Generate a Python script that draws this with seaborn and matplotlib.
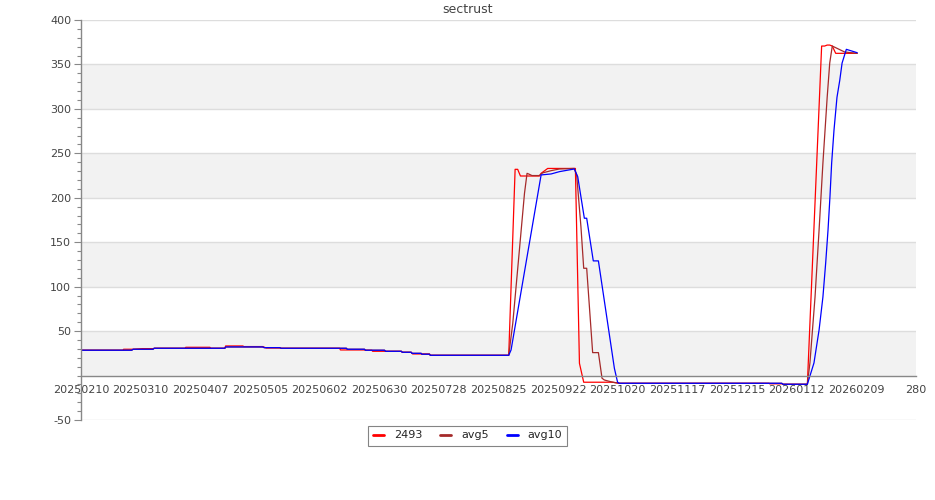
import numpy as np
import pandas as pd
import matplotlib
matplotlib.use("Agg")
import matplotlib.pyplot as plt
from matplotlib.ticker import MultipleLocator, FixedLocator
import seaborn as sns

# days since 20250210
days_2493 = [0, 19.7, 20, 24.4, 24.8, 28.8, 34.2, 34.6, 48.8, 49.2, 60.5, 60.9, 67.5, 67.9, 76, 76.4,
             85.3, 87, 93.3, 93.7, 121.4, 121.8, 133.1, 133.5, 136.5, 136.9, 150.4, 150.8, 155, 155.7,
             163.6, 164, 200.8, 203.8, 205, 206.3, 215.2, 216, 219.1, 232.1, 234, 236, 249.6, 252.7,
             323, 323.3, 329, 329.5, 341, 347.7, 349.1, 350.3, 351.5, 352.7, 354.3, 364.4]
vals_2493 = [28.5, 28.5, 29.6, 29.6, 29.6, 30.3, 30.3, 30.7, 30.7, 31.8, 31.8, 30.7, 30.7, 33.3, 33.3, 32.6,
             32.6, 31.0, 31.0, 30.7, 30.7, 28.8, 28.8, 28.5, 28.5, 27.3, 27.3, 26.2, 26.2, 24.3,
             24.3, 22.8, 22.8, 232, 232, 224.5, 224.5, 227.5, 233, 233, 13.8, -7.5, -7.5, -8.7,
             -8.7, -9.3, -9.3, -9.8, -9.8, 370.7, 370.7, 371.8, 371.8, 370.7, 362.5, 362.5]

days_avg5 = [0, 23.8, 24.5, 33.8, 34.3, 67.5, 68, 85.3, 86, 93.3, 94, 124.6, 125, 133.1, 133.5,
             142.5, 143, 150.4, 150.8, 155, 155.4, 159.7, 160, 163.6, 164, 200.8, 202.7, 205.8, 208.2,
             209.4, 210.5, 211.7, 215.2, 216.7, 220.7, 224.6, 231.6, 232.7, 234.7, 236, 237.4, 240.2,
             242.9, 244.6, 245.7, 249.6, 252.7, 329, 329.5, 341, 342.2, 344.6, 346.5, 348.3, 350.3,
             351.5, 352.7, 358.5, 364.4]
vals_avg5 = [28.5, 28.5, 29.6, 29.6, 30.7, 30.7, 32.2, 32.2, 31.4, 31.4, 30.7, 30.7, 29.6, 29.6, 28.5,
             28.5, 27.3, 27.3, 26.2, 26.2, 25.0, 25.0, 24.0, 24.0, 22.8, 22.8, 58.8, 141, 205,
             227.5, 226.4, 225, 225, 228, 230.5, 232.4, 233, 225.6, 167.5, 120.7, 120.7, 25.8,
             25.8, -3, -5, -7.5, -8.7, -8.7, -9.8, -9.8, 14.2, 88.4, 163.8, 239, 313,
             351.6, 370.7, 364, 362.5]

days_avg10 = [0, 23.8, 24.5, 33.8, 34.3, 67.5, 68, 85.3, 86, 93.3, 94, 124.6, 125, 133.1, 133.5,
              142.5, 143, 150.4, 150.8, 155, 155.4, 159.7, 160, 163.6, 164, 200.8, 201.9, 216, 220.7,
              224.6, 231.6, 233.2, 236.3, 237.4, 240.5, 242.9, 250.4, 251.9, 252.7, 329, 329.5, 341,
              344.1, 346.5, 348.3, 349.6, 350.7, 351.6, 352.4, 353.5, 354.9, 356.2, 357.3, 359.3, 364.4]
vals_avg10 = [28.5, 28.5, 29.6, 29.6, 30.7, 30.7, 32.2, 32.2, 31.4, 31.4, 30.7, 30.7, 29.6, 29.6, 28.5,
              28.5, 27.3, 27.3, 26.2, 26.2, 25.0, 25.0, 24.0, 24.0, 22.8, 22.8, 28.8, 225.7, 226.8,
              229.4, 232.4, 223.7, 177, 177, 129, 129, 8.2, -7.5, -8.7, -8.7, -9.8, -9.8,
              14.2, 51.3, 88.4, 126.7, 163.8, 200.9, 239, 276, 313, 332, 351.6, 367, 363.2]

series_names = ["2493", "avg5", "avg10"]
series_colors = ["#ff0000", "#a52a2a", "#0000ff"]

tick_days = [0, 28, 56, 84, 112, 140, 168, 196, 224, 252, 280, 308, 336, 364, 392]
tick_labels = ["20250210", "20250310", "20250407", "20250505", "20250602", "20250630",
               "20250728", "20250825", "20250922", "20251020", "20251117", "20251215",
               "20260112", "20260209", "280"]

frames = []
for name, d, v in zip(series_names, [days_2493, days_avg5, days_avg10],
                      [vals_2493, vals_avg5, vals_avg10]):
    frames.append(pd.DataFrame({"day": d, "value": v, "series": name}))
df = pd.concat(frames, ignore_index=True)

sns.set_style("white")
plt.rcParams["font.family"] = ["DejaVu Sans"]
plt.rcParams["axes.unicode_minus"] = False

fig = plt.figure(figsize=(9.35, 5.0), dpi=100)
ax = fig.add_axes([81 / 935, 80 / 500, 835 / 935, 400 / 500])

# alternating bands
for lo in [0, 100, 200, 300]:
    ax.axhspan(lo, lo + 50, color="#f2f2f2", zorder=0, lw=0)
for y in [-50, 50, 100, 150, 200, 250, 300, 350, 400]:
    ax.axhline(y, color="#dddddd", lw=1.0, zorder=0.5)

sns.lineplot(data=df, x="day", y="value", hue="series", hue_order=series_names,
             palette=series_colors, estimator=None, sort=False, lw=0.9, ax=ax)

ax.set_xlim(0, 392)
ax.set_ylim(-50, 400)
ax.set_xlabel("")
ax.set_ylabel("")

for s in ["top", "right"]:
    ax.spines[s].set_visible(False)
ax.spines["left"].set_color("#888888")
ax.spines["left"].set_linewidth(1.0)
ax.spines["bottom"].set_position(("data", 0))
ax.spines["bottom"].set_color("#888888")
ax.spines["bottom"].set_linewidth(1.0)

ax.yaxis.set_major_locator(FixedLocator([-50, 50, 100, 150, 200, 250, 300, 350, 400]))
ax.yaxis.set_minor_locator(MultipleLocator(10))
ax.tick_params(axis="y", which="major", length=5, width=0.8, color="#888888",
               labelsize=8, labelcolor="#444444", pad=2, left=True)
ax.tick_params(axis="y", which="minor", length=3, width=0.8, color="#888888", left=True)
ax.set_xticks(tick_days)
ax.set_xticklabels(tick_labels)
ax.tick_params(axis="x", length=0, pad=7, labelsize=8, labelcolor="#444444")

fig.text(0.5, 0.981, "sectrust", ha="center", va="center", fontsize=9, color="#444444")

sns.move_legend(ax, "center", bbox_to_anchor=((467.5 - 81) / 835, (420 - 435.5) / 400),
                ncol=3, title=None, frameon=True, fontsize=8, handlelength=1.0,
                handletextpad=0.9, columnspacing=1.6, borderpad=0.45, fancybox=False)
leg = ax.get_legend()
leg.get_frame().set_edgecolor("#666666")
leg.get_frame().set_linewidth(0.8)
for h in leg.legend_handles:
    h.set_linewidth(2.0)

fig.savefig("out.png", dpi=100)
